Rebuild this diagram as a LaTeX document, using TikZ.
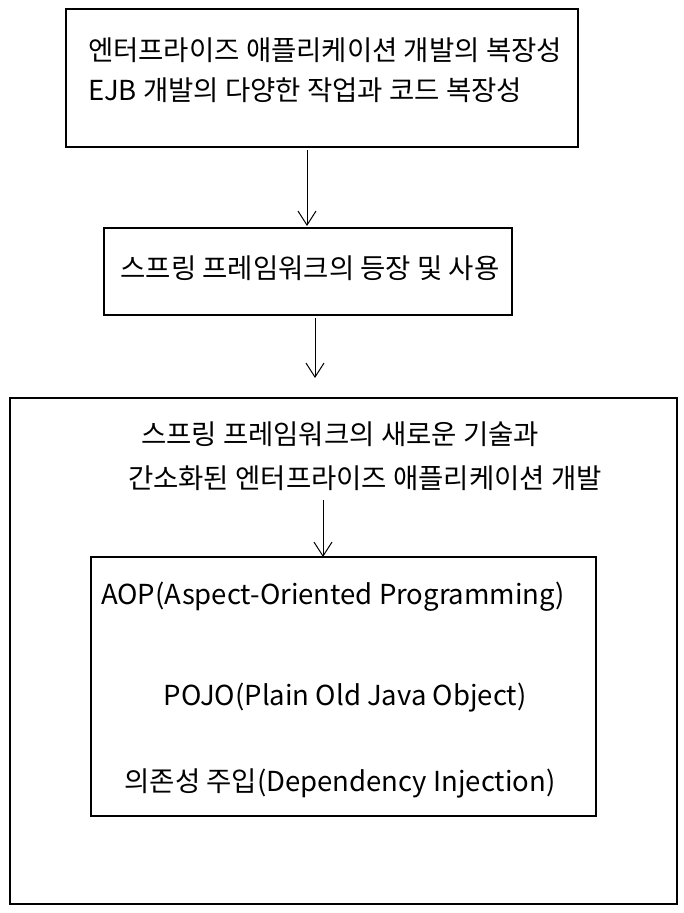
\documentclass[tikz,border=0pt]{standalone}
\usepackage{fontspec}
\setmainfont{Noto Sans CJK KR}
\usetikzlibrary{arrows.meta}
\begin{document}
\begin{tikzpicture}[x=1pt,y=-1pt,
  box/.style={draw,line width=1.3pt,inner sep=0pt},
  txt/.style={font=\fontsize{27.5}{40}\selectfont,inner sep=0pt},
  arr/.style={line width=1pt,-{Straight Barb[length=14pt,width=18pt]}}]
\useasboundingbox (0,0) rectangle (684,913);
\draw[box] (66,9) rectangle (578,147);
\node[txt,align=left] (t1) at (325,70) {엔터프라이즈 애플리케이션 개발의 복장성\\EJB 개발의 다양한 작업과 코드 복장성};
\draw[box] (104,228) rectangle (512,315);
\node[txt] (t2) at (310,268) {스프링 프레임워크의 등장 및 사용};
\draw[box] (10,398) rectangle (677,904);
\node[txt] (t3) at (340,434) {스프링 프레임워크의 새로운 기술과};
\node[txt] (t4) at (365,478) {간소화된 엔터프라이즈 애플리케이션 개발};
\draw[box] (91,557) rectangle (596,816);
\node[txt] (a) at (333,597) {AOP(Aspect-Oriented Programming)};
\node[txt] (b) at (345,698) {POJO(Plain Old Java Object)};
\node[txt] (c) at (340,783) {의존성 주입(Dependency Injection)};
\coordinate (p1) at (307,150); \coordinate (q1) at (307,226);
\coordinate (p2) at (315,318); \coordinate (q2) at (315,378);
\coordinate (p3) at (323,500); \coordinate (q3) at (323,557);
\draw[arr] (p1) -- (q1);
\draw[arr] (p2) -- (q2);
\draw[arr] (p3) -- (q3);
\end{tikzpicture}
\end{document}
